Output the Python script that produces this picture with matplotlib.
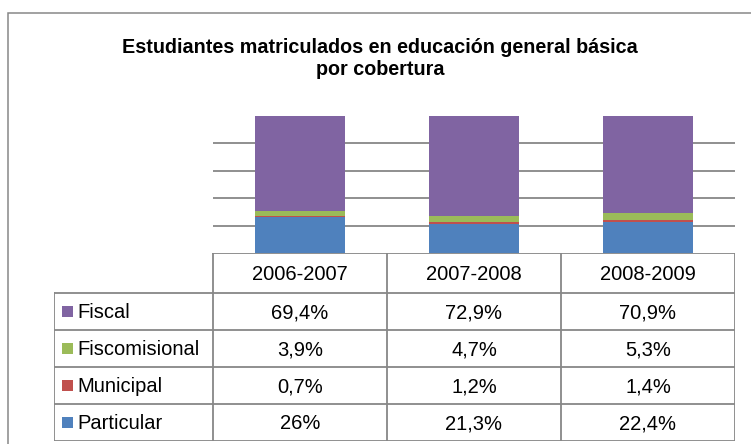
import matplotlib
matplotlib.use('Agg')
import matplotlib.pyplot as plt
from matplotlib.patches import Rectangle
import numpy as np

plt.rcParams['font.family'] = ['Liberation Sans', 'DejaVu Sans']

# Data
periods = ['2006-2007', '2007-2008', '2008-2009']
series = ['Fiscal', 'Fiscomisional', 'Municipal', 'Particular']
fiscal = [69.4, 72.9, 70.9]
fiscomisional = [3.9, 4.7, 5.3]
municipal = [0.7, 1.2, 1.4]
particular = [26.0, 21.3, 22.4]
colors = ['#8064A2', '#9BBB59', '#C0504D', '#4F81BD']

values = [fiscal, fiscomisional, municipal, particular]
GRID = '#878787'
W, H = 751, 444
FS = 14.5


def fmt(v):
    return ('%g' % v).replace('.', ',') + '%'


fig = plt.figure(figsize=(W / 100, H / 100), dpi=100)

# outer chart frame (only top and left edges visible)
fig.patches.append(Rectangle((8 / W, -0.2), 1.2, 1.2 - 13 / H,
                             transform=fig.transFigure, fill=False,
                             edgecolor=GRID, linewidth=1.1))

fig.text(380 / W, 1 - 58.5 / H,
         'Estudiantes matriculados en educación general básica\npor cobertura',
         ha='center', va='center', fontsize=14.2, fontweight='bold',
         linespacing=1.2, color='#000000')

# plot area
ax = fig.add_axes([213 / W, 1 - 253 / H, 522 / W, 137 / H])
x = np.arange(len(periods))
totals = np.sum(values, axis=0)
bottom = np.zeros(len(periods))
for name, vals, col in reversed(list(zip(series, values, colors))):
    share = np.array(vals) / totals * 100
    ax.bar(x, share, 0.52, bottom=bottom, color=col, edgecolor='none', zorder=3)
    bottom += share
ax.set_xlim(-0.5, len(periods) - 0.5)
ax.set_ylim(0, 100)
ax.set_yticks([20, 40, 60, 80])
ax.grid(axis='y', color=GRID, linewidth=1.3, zorder=0)
ax.tick_params(left=False, bottom=False, labelleft=False, labelbottom=False)
for s in ax.spines.values():
    s.set_visible(False)

# data table
tax = fig.add_axes([54 / W, 1 - 441 / H, 681 / W, 188 / H])
lab_w = 159 / 174
hdr_h = 40 / 36.75
n_rows = len(series)
tax.set_xlim(-lab_w, len(periods))
tax.set_ylim(hdr_h + n_rows, 0)
tax.axis('off')
lk = dict(color=GRID, linewidth=1.3, solid_capstyle='projecting')

# header row
tax.plot([0, len(periods)], [0, 0], **lk)
for j, p in enumerate(periods):
    tax.text(j + 0.5, hdr_h / 2 + 0.03, p, ha='center', va='center', fontsize=FS)
for j in range(len(periods) + 1):
    tax.plot([j, j], [0, hdr_h + n_rows], **lk)
tax.plot([-lab_w, -lab_w], [hdr_h, hdr_h + n_rows], **lk)
for i in range(n_rows + 1):
    tax.plot([-lab_w, len(periods)], [hdr_h + i, hdr_h + i], **lk)

for i, (name, vals, col) in enumerate(zip(series, values, colors)):
    yc = hdr_h + i + 0.5
    tax.add_patch(Rectangle((-lab_w + 8 / 174, yc - 0.15), 11 / 174, 0.3,
                            facecolor=col, edgecolor='none'))
    tax.text(-lab_w + 23 / 174, yc + 0.03, name, ha='left', va='center', fontsize=FS)
    for j, v in enumerate(vals):
        tax.text(j + 0.5, yc + 0.03, fmt(v), ha='center', va='center', fontsize=FS)

fig.savefig('out.png', dpi=100, facecolor='white')
